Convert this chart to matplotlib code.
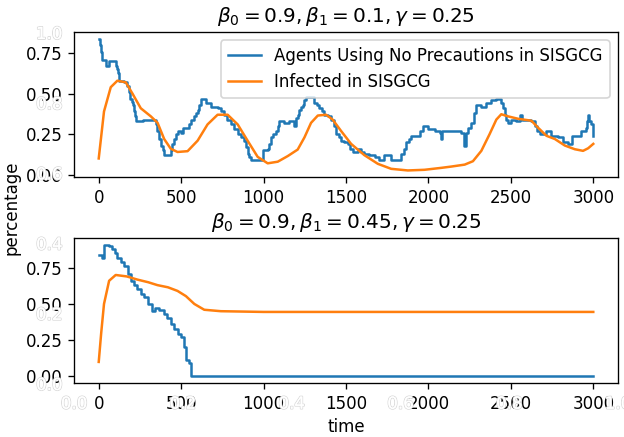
import numpy as np
import matplotlib.pyplot as plt
import matplotlib.patheffects as pe

# top panel: beta1 = 0.1
t_top_blue = [0, 6, 12, 22, 43, 63, 83, 103, 112, 118, 124, 154, 174, 182, 190, 200, 208, 215, 220,
              225, 257, 270, 316, 346, 356, 366, 377, 387, 397, 427, 437, 447, 457, 468, 478, 498,
              510, 529, 545, 559, 575, 589, 600, 610, 620, 650, 680, 721, 741, 761, 780, 802, 822,
              843, 863, 883, 893, 903, 913, 923, 984, 995, 1025, 1035, 1045, 1060, 1075, 1085, 1095,
              1126, 1156, 1187, 1197, 1207, 1217, 1227, 1237, 1248, 1258, 1288, 1308, 1323, 1338,
              1353, 1369, 1390, 1410, 1425, 1440, 1455, 1470, 1490, 1511, 1526, 1541, 1572, 1592,
              1612, 1642, 1673, 1703, 1733, 1774, 1814, 1835, 1850, 1865, 1880, 1896, 1937, 1950,
              1966, 1997, 2037, 2068, 2078, 2085, 2139, 2199, 2215, 2225, 2240, 2260, 2275, 2290,
              2321, 2351, 2382, 2412, 2442, 2452, 2462, 2472, 2483, 2503, 2533, 2554, 2565, 2625,
              2645, 2660, 2675, 2716, 2746, 2787, 2817, 2847, 2868, 2908, 2928, 2953, 2962, 2969,
              2977, 2985, 3000]
v_top_blue = [0.84, 0.80, 0.76, 0.71, 0.67, 0.70, 0.70, 0.67, 0.65, 0.63, 0.58, 0.57, 0.55, 0.51,
              0.47, 0.45, 0.43, 0.39, 0.36, 0.33, 0.33, 0.34, 0.34, 0.31, 0.27, 0.22, 0.18, 0.15,
              0.12, 0.12, 0.15, 0.19, 0.22, 0.25, 0.27, 0.26, 0.29, 0.29, 0.31, 0.34, 0.36, 0.38,
              0.40, 0.43, 0.47, 0.44, 0.42, 0.41, 0.39, 0.37, 0.34, 0.31, 0.28, 0.25, 0.23, 0.21,
              0.17, 0.13, 0.11, 0.09, 0.09, 0.15, 0.16, 0.19, 0.23, 0.25, 0.27, 0.30, 0.33, 0.32,
              0.33, 0.30, 0.35, 0.37, 0.40, 0.42, 0.43, 0.46, 0.48, 0.48, 0.44, 0.43, 0.41, 0.39,
              0.37, 0.36, 0.34, 0.30, 0.25, 0.23, 0.21, 0.20, 0.19, 0.16, 0.14, 0.16, 0.14, 0.13,
              0.12, 0.11, 0.09, 0.12, 0.09, 0.09, 0.13, 0.16, 0.20, 0.22, 0.24, 0.24, 0.27, 0.30,
              0.28, 0.27, 0.26, 0.22, 0.27, 0.27, 0.26, 0.18, 0.26, 0.29, 0.32, 0.38, 0.43, 0.42,
              0.44, 0.46, 0.47, 0.44, 0.41, 0.37, 0.34, 0.32, 0.34, 0.33, 0.37, 0.34, 0.33, 0.30,
              0.27, 0.25, 0.27, 0.24, 0.23, 0.20, 0.19, 0.24, 0.24, 0.27, 0.29, 0.33, 0.37, 0.33,
              0.31, 0.24]

t_top_inf = [0, 32, 73, 113, 164, 205, 255, 316, 357, 397, 437, 478, 539, 600, 660, 721, 782, 843,
             903, 964, 1025, 1086, 1147, 1207, 1248, 1288, 1329, 1379, 1419, 1470, 1531, 1612,
             1693, 1774, 1875, 1976, 2078, 2139, 2220, 2270, 2321, 2371, 2412, 2442, 2483, 2544,
             2625, 2665, 2716, 2767, 2827, 2888, 2938, 2969, 3000]
v_top_inf = [0.10, 0.39, 0.54, 0.58, 0.57, 0.50, 0.41, 0.36, 0.32, 0.22, 0.16, 0.14, 0.145, 0.21,
             0.31, 0.37, 0.37, 0.31, 0.21, 0.11, 0.07, 0.08, 0.115, 0.155, 0.23, 0.32, 0.365, 0.37,
             0.34, 0.27, 0.19, 0.12, 0.067, 0.036, 0.026, 0.03, 0.042, 0.05, 0.062, 0.083, 0.147,
             0.25, 0.34, 0.373, 0.36, 0.345, 0.333, 0.29, 0.24, 0.22, 0.18, 0.157, 0.147, 0.163,
             0.19]

# bottom panel: beta1 = 0.45
t_bot_blue = [0, 20, 30, 60, 83, 100, 113, 135, 154, 175, 194, 215, 235, 255, 275, 300, 326, 340,
              366, 397, 417, 437, 457, 478, 498, 515, 529, 549, 559, 3000]
v_bot_blue = [0.84, 0.82, 0.91, 0.90, 0.88, 0.85, 0.82, 0.79, 0.76, 0.71, 0.66, 0.63, 0.60, 0.57,
              0.55, 0.50, 0.45, 0.47, 0.46, 0.43, 0.40, 0.36, 0.33, 0.29, 0.27, 0.20, 0.11, 0.09,
              0.0, 0.0]

t_bot_inf = [0, 15, 32, 63, 103, 170, 235, 300, 356, 420, 478, 529, 580, 640, 741, 1000, 2000, 3000]
v_bot_inf = [0.10, 0.30, 0.50, 0.66, 0.70, 0.69, 0.668, 0.65, 0.63, 0.615, 0.59, 0.554, 0.50, 0.46,
             0.45, 0.445, 0.445, 0.445]

titles = [r'$\beta_0 = 0.9, \beta_1 = 0.1, \gamma = 0.25$',
          r'$\beta_0 = 0.9, \beta_1 = 0.45, \gamma = 0.25$']

fig, (ax1, ax2) = plt.subplots(2, 1, figsize=(5.2, 437 / 120), dpi=120)
fig.subplots_adjust(left=74 / 624, right=618 / 624, top=1 - 32 / 437, bottom=1 - 383 / 437, hspace=0.42)

ax1.plot(t_top_blue, v_top_blue, drawstyle='steps-post', label='Agents Using No Precautions in SISGCG')
ax1.plot(t_top_inf, v_top_inf, label='Infected in SISGCG')
ax1.set_title(titles[0])
ax1.legend(loc='upper right')

ax2.plot(t_bot_blue, v_bot_blue, drawstyle='steps-post')
ax2.plot(t_bot_inf, v_bot_inf)
ax2.set_title(titles[1])

for ax in (ax1, ax2):
    ax.set_yticks([0.0, 0.25, 0.5, 0.75])

# big invisible axes for the shared labels
big = fig.add_subplot(111, frameon=False)
big.set_position([74 / 624, 1 - 383 / 437, (618 - 74) / 624, (383 - 32) / 437])
big.tick_params(labelcolor='w', top=False, bottom=False, left=False, right=False)
for lab in big.get_xticklabels() + big.get_yticklabels():
    lab.set_path_effects([pe.withStroke(linewidth=1, foreground='#d8d8d8'), pe.Normal()])
big.set_xlabel('time', labelpad=3)
big.set_ylabel('percentage', labelpad=9)

fig.savefig('out.png')
